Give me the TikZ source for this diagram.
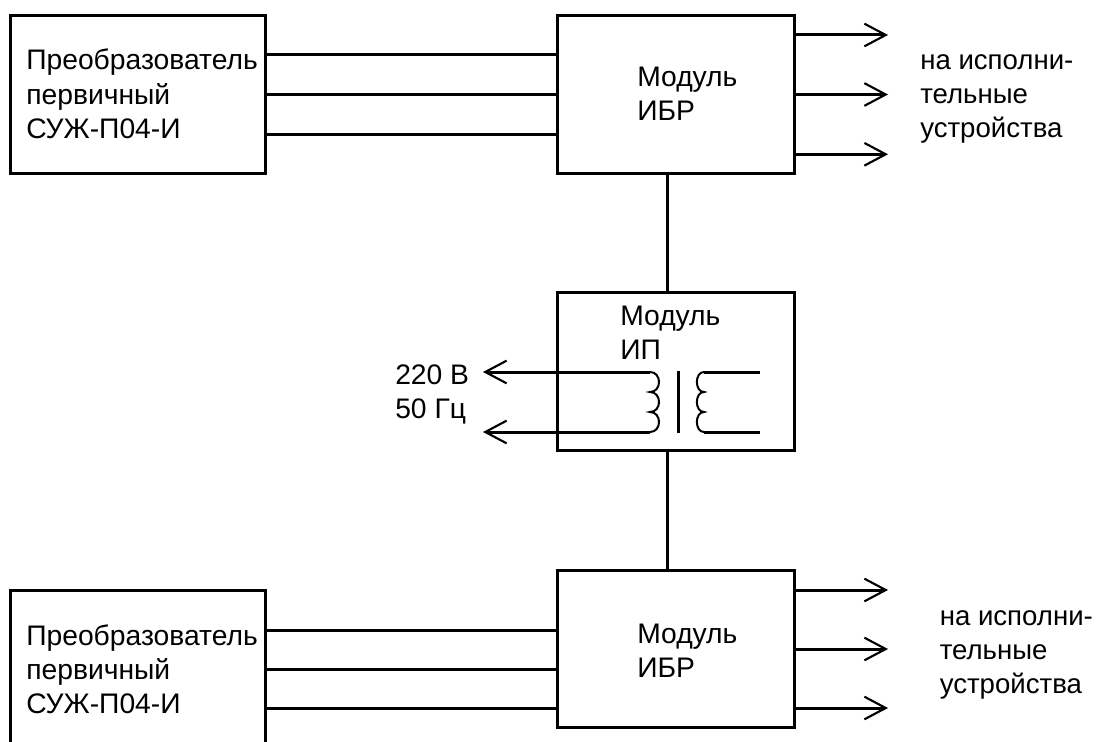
\documentclass[tikz,border=0pt]{standalone}
\usepackage{fontspec}
\setmainfont{Liberation Sans}
\usetikzlibrary{positioning,calc,arrows.meta}
\tikzset{blockbox/.style={draw,rectangle,line width=2.25pt,anchor=north west,inner sep=0pt,outer sep=0pt}}
\tikzset{lbl/.style={align=left,anchor=north west,inner sep=0pt,font=\fontsize{21.2}{25.7}\selectfont}}
\tikzset{lblact/.style={lbl,font=\fontsize{20.7}{25.7}\selectfont}}
\tikzset{wire/.style={line width=2.25pt}}
\tikzset{>={Straight Barb[length=16pt,width=17pt,line width=1.6pt]}}

\begin{document}
\begin{tikzpicture}[x=0.75pt,y=-0.75pt]
	\useasboundingbox (0,0) rectangle (1096,742);
	\clip (0,0) rectangle (1096,742);
		\node[blockbox,minimum width=191.5pt,minimum height=118.2pt] (conv1) at (10.3,15.7) {};
		\node[blockbox,minimum width=177.75pt,minimum height=118.2pt] (ibr1) at (557.3,15.7) {};
		\node[blockbox,minimum width=177.75pt,minimum height=118.2pt] (ip) at (557.3,292.7) {};
		\node[blockbox,minimum width=177.75pt,minimum height=118.2pt] (ibr2) at (557.3,570.3) {};
		\node[blockbox,minimum width=191.5pt,minimum height=150pt] (conv2) at (10.3,590.5) {};

		\node[lbl] (tconv1) at (26,49) {Преобразователь\\первичный\\СУЖ-П04-И};
		\node[lbl] (tconv2) at (26,624) {Преобразователь\\первичный\\СУЖ-П04-И};
		\node[lbl] (tibr1) at (637,67) {Модуль\\ИБР};
		\node[lbl] (tibr2) at (637,624) {Модуль\\ИБР};
		\node[lbl] (tip) at (620,306) {Модуль\\ИП};
		\node[lblact] (tact1) at (920,54) {на исполни-\\тельные\\устройства};
		\node[lblact] (tact2) at (939.5,610) {на исполни-\\тельные\\устройства};
		\node[lbl] (tnet) at (395,364.5) {220 В\\50 Гц};

		% inputs
		\foreach \y in {55,94.5,134.3} \draw[wire] (conv1.east |- 0,\y) -- (ibr1.west |- 0,\y);
		\foreach \y in {630,669,708} \draw[wire] (conv2.east |- 0,\y) -- (ibr2.west |- 0,\y);
		% outputs
		\foreach \y in {35,94.5,154.3} {
			\coordinate (out) at (888,\y);
			\draw[wire,->] (ibr1.east |- out) -- (out);
		}
		\foreach \y in {590,649,708} {
			\coordinate (out) at (888,\y);
			\draw[wire,->] (ibr2.east |- out) -- (out);
		}
		\draw[wire] (ibr1.south -| 667,0) -- (ip.north -| 667,0);
		\draw[wire] (ip.south -| 667,0) -- (ibr2.north -| 667,0);

		% transformer
		\coordinate (netA) at (483,372);
		\coordinate (netB) at (483,432);
		\coordinate (coilA) at (650,372);
		\coordinate (coilB) at (650,432);
		\coordinate (secA) at (704,372);
		\coordinate (secB) at (704,432);
		\coordinate (endA) at (760,372);
		\coordinate (endB) at (760,432);
		\draw[wire,->] (coilA) -- (netA);
		\draw[wire,->] (coilB) -- (netB);
		\draw[wire] (secA) -- (endA);
		\draw[wire] (secB) -- (endB);
		\draw[line width=1.5pt] (coilA) .. controls +(12,0) and +(12,0) .. ++(0,20) .. controls +(12,0) and +(12,0) .. ++(0,20) .. controls +(12,0) and +(12,0) .. (coilB);
		\draw[line width=1.5pt] (secA) .. controls +(-9.5,0) and +(-9.5,0) .. ++(0,20) .. controls +(-9.5,0) and +(-9.5,0) .. ++(0,20) .. controls +(-9.5,0) and +(-9.5,0) .. (secB);
		\draw[wire] (678,371) -- (678,433);
\end{tikzpicture}
\end{document}
